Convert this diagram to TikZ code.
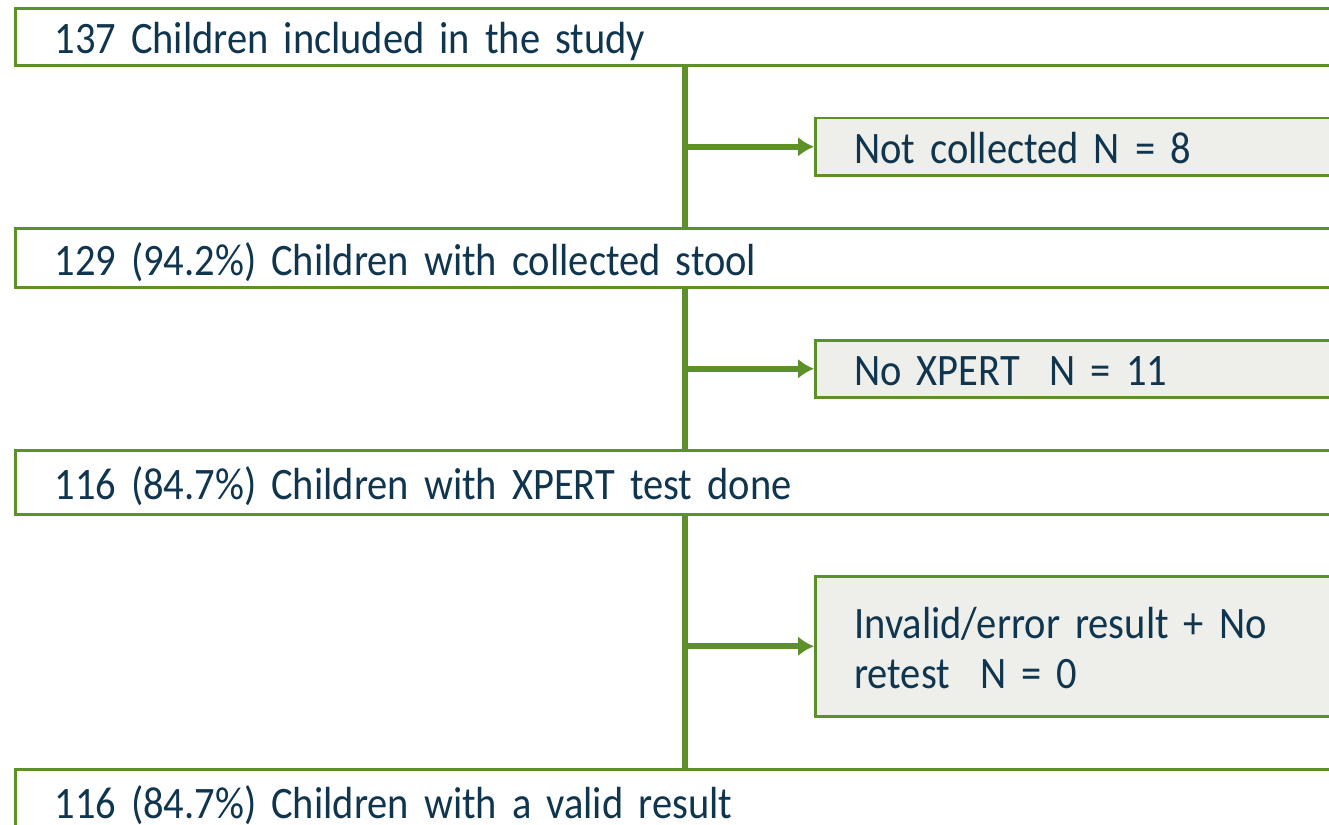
\documentclass[tikz,border=0pt]{standalone}
\usepackage{fontspec}
\setmainfont{Carlito}[FakeStretch=0.9]
\usepackage{tikz}
\usetikzlibrary{arrows.meta}
\definecolor{flowgreen}{HTML}{5E902A}
\definecolor{flowtext}{HTML}{10354F}
\definecolor{sidefill}{HTML}{EEEFEA}

\begin{document}
\begin{tikzpicture}[x=1pt,y=-1pt,
  main/.style={draw=flowgreen, line width=3pt, fill=white, anchor=north west, align=left, text width=1400pt, inner xsep=39pt, inner ysep=0pt, text height=36pt, text depth=2pt, text=flowtext, font=\fontsize{45}{50}\selectfont},
  side/.style={draw=flowgreen, line width=2.5pt, fill=sidefill, anchor=north west, align=left, text width=700pt, inner xsep=39pt, inner ysep=0pt, text height=36pt, text depth=2pt, text=flowtext, font=\fontsize{45}{50}\selectfont},
  trunk/.style={line width=6pt, flowgreen},
  arr/.style={-{Latex[length=16pt,width=20pt]}, line width=6pt, flowgreen}]
\useasboundingbox (0,0) rectangle (1329,824);
\clip (0,0) rectangle (1329,824);
\node[main, minimum height=57pt] (IN) at (14,7)   {137 Children included in the study};
\node[side, minimum height=57pt] (NC) at (814,117) {Not collected N = 8};
\node[main, minimum height=59pt] (ST) at (14,227) {129 (94.2\%) Children with collected stool};
\node[side, minimum height=57pt] (NX) at (814,339) {No XPERT\ \ N = 11};
\node[main, minimum height=64pt] (XP) at (14,449) {116 (84.7\%) Children with XPERT test done};
\node[side, minimum height=140pt, text depth=52pt] (IV) at (814,575) {Invalid/error result + No\\retest\ \ N = 0};
\node[main, minimum height=64pt] (VR) at (14,768) {116 (84.7\%) Children with a valid result};
\coordinate (T) at (685,0);
\draw[trunk] (IN.south -| T) -- (ST.north -| T);
\draw[trunk] (ST.south -| T) -- (XP.north -| T);
\draw[trunk] (XP.south -| T) -- (VR.north -| T);
\draw[arr] (NC.west -| T) -- (NC.west);
\draw[arr] (NX.west -| T) -- (NX.west);
\draw[arr] (IV.west -| T) -- (IV.west);
\end{tikzpicture}
\end{document}
